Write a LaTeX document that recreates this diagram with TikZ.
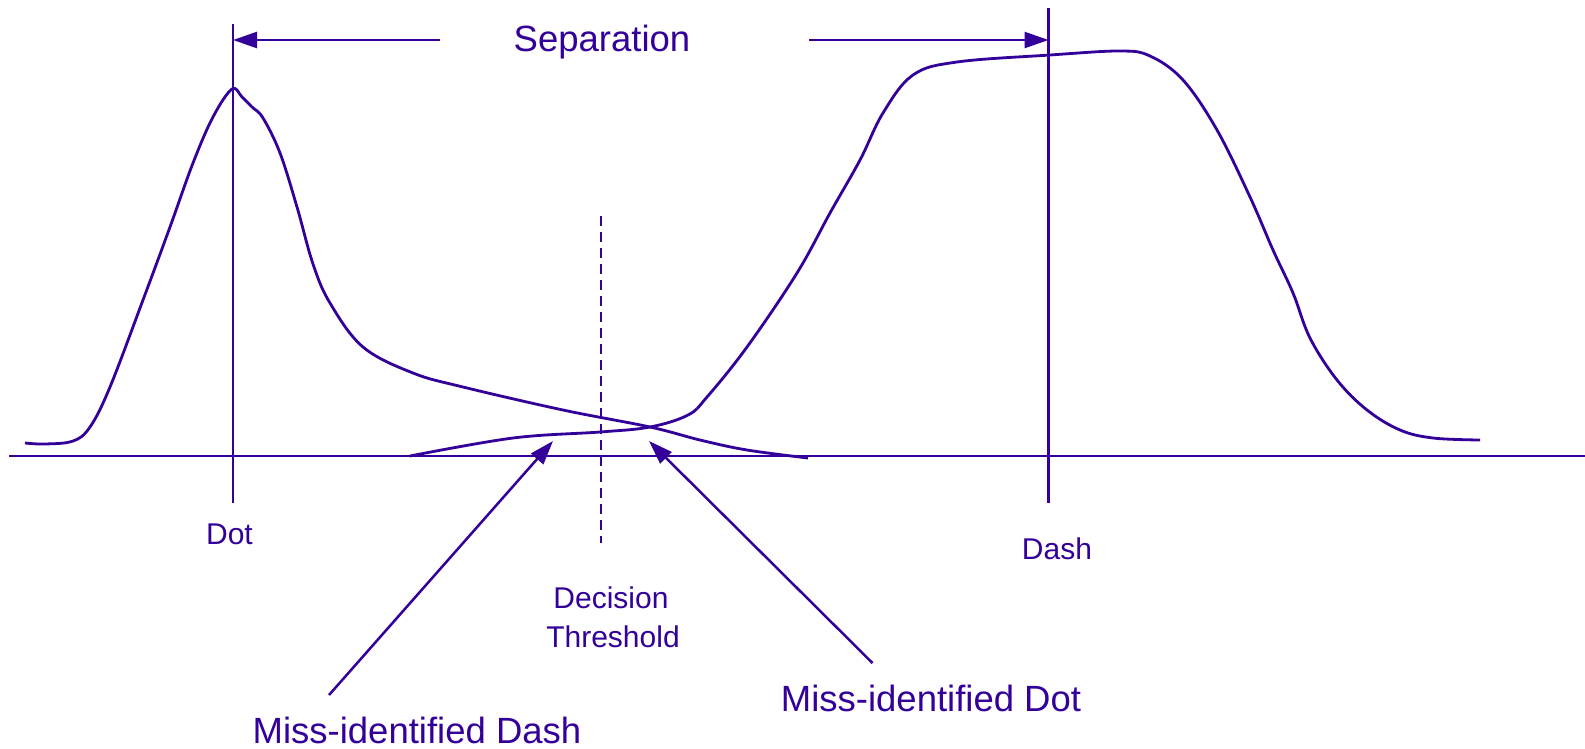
\documentclass[tikz,border=0pt]{standalone}
\usepackage{fontspec}
\setmainfont{Liberation Sans}
\usetikzlibrary{arrows.meta}
\definecolor{ink}{RGB}{51,0,153}
\tikzset{
  ln/.style={draw=ink, line width=2.5pt},
  crv/.style={draw=ink, line width=2.8pt, line join=round},
  arr/.style={draw=ink, line width=2.5pt, -{Triangle[length=24pt,width=16pt]}},
  bigtxt/.style={text=ink, font=\fontsize{36.5}{40}\selectfont, anchor=base, inner sep=0pt},
  smalltxt/.style={text=ink, font=\fontsize{30}{34}\selectfont, anchor=base, inner sep=0pt},
}
\begin{document}
\begin{tikzpicture}[x=1pt,y=-1pt]
\useasboundingbox (0,0) rectangle (1585,748);
\fill[white] (0,0) rectangle (1585,748);

% axes and markers
\coordinate (axL) at (9,456);
\coordinate (axR) at (1585,456);
\draw[ln] (axL) -- (axR);
\coordinate (dotT) at (233,24);
\coordinate (dotB) at (233,503);
\draw[ln] (dotT) -- (dotB);
\coordinate (dashT) at (1048.5,8);
\coordinate (dashB) at (1048.5,503);
\draw[ln] (dashT) -- (dashB);
\coordinate (thrT) at (601,216);
\coordinate (thrB) at (601,543);
\draw[ln, dash pattern=on 10pt off 6pt] (thrT) -- (thrB);

% separation
\node[bigtxt] (sep) at (602,51) {Separation};
\coordinate (sepL) at (440,40);
\coordinate (sepLt) at (233,40);
\coordinate (sepR) at (809,40);
\coordinate (sepRt) at (1048.5,40);
\draw[arr] (sepL) -- (sepLt);
\draw[arr] (sepR) -- (sepRt);

% dot distribution
\draw[crv] plot[smooth, tension=0.6] coordinates {
 (25,443) (45,444) (73,441) (90,427) (110,387) (143,300)
 (170,227) (193,163) (213,117) (232,89) (242,97) (252,107) (263,118) (280,153)
 (297,207) (313,264) (330,303) (363,347) (413,373) (463,387)
 (563,410) (650,427) (700,440) (747,450) (808,458)};

% dash distribution
\draw[crv] plot[smooth, tension=0.6] coordinates {
 (410,456) (513,438) (600,432) (650,427) (688,415)
 (707,397) (747,347) (797,273) (830,213) (860,160) (883,113)
 (913,75) (957,62) (1050,55) (1120,51)
 (1150,56) (1183,80) (1217,130) (1250,197) (1273,250) (1293,293) (1310,338)
 (1337,380) (1367,410) (1400,430) (1433,438) (1480,440)};

% labels
\node[smalltxt] (dotlbl) at (229.5,544) {Dot};
\node[smalltxt] (dashlbl) at (1057,559) {Dash};
\node[smalltxt] (dec) at (611,608) {Decision};
\node[smalltxt] (thr) at (613,647) {Threshold};
\node[bigtxt] (mdash) at (417,743) {Miss-identified Dash};
\node[bigtxt] (mdot) at (931,711.5) {Miss-identified Dot};

% pointers
\coordinate (mdashS) at (329,695);
\coordinate (mdashT) at (553,441);
\coordinate (mdotS) at (872.5,663);
\coordinate (mdotT) at (649,441);
\draw[arr] (mdashS) -- (mdashT);
\draw[arr] (mdotS) -- (mdotT);
\end{tikzpicture}
\end{document}
